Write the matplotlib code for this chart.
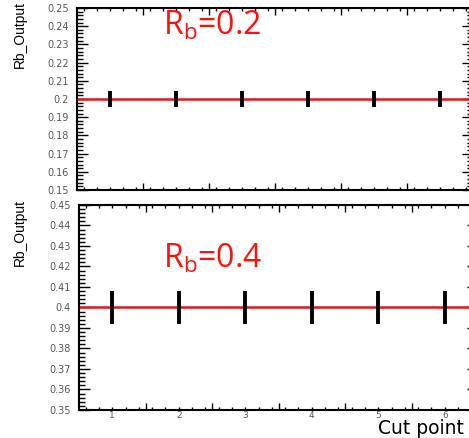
import matplotlib
matplotlib.use("Agg")
import matplotlib.pyplot as plt
from matplotlib.ticker import MultipleLocator, FormatStrFormatter

cut_points = [1, 2, 3, 4, 5, 6]
rb_out_02 = [0.2, 0.2, 0.2, 0.2, 0.2, 0.2]
err_02 = [0.0045, 0.0045, 0.0045, 0.0045, 0.0045, 0.0045]
rb_out_04 = [0.4, 0.4, 0.4, 0.4, 0.4, 0.4]
err_04 = [0.008, 0.008, 0.008, 0.008, 0.008, 0.008]
true_rb = [0.2, 0.4]
x_tick_labels = ["1", "2", "3", "4", "5", "6"]

fig = plt.figure(figsize=(4.69, 4.38), dpi=100)
W, H = 469, 438

def add_ax(l, t, r, b):
    return fig.add_axes([l / W, 1 - b / H, (r - l) / W, (b - t) / H])

ax1 = add_ax(77, 8, 473, 190)
ax2 = add_ax(79, 205, 478, 410)

panels = [
    (ax1, rb_out_02, err_02, true_rb[0], (0.15, 0.25), "R$_\\mathregular{b}$=0.2", 35),
    (ax2, rb_out_04, err_04, true_rb[1], (0.35, 0.45), "R$_\\mathregular{b}$=0.4", 268),
]

for ax, vals, errs, truth, ylim, label, base_px in panels:
    ax.set_xlim(0.5, 6.5)
    ax.set_ylim(*ylim)
    ax.axhline(truth, color="#e8141a", lw=1.8, zorder=2)
    ax.errorbar(cut_points, vals, yerr=errs, fmt="none", ecolor="black",
                elinewidth=2.8, capsize=0, zorder=3)
    ax.set_xticks([1.5, 2.5, 3.5, 4.5, 5.5])
    ax.set_xticklabels([])
    ax.xaxis.set_minor_locator(MultipleLocator(0.2))
    ax.yaxis.set_major_locator(MultipleLocator(0.01))
    ax.yaxis.set_minor_locator(MultipleLocator(0.002))
    ax.yaxis.set_major_formatter(FormatStrFormatter("%g"))
    ax.tick_params(which="both", direction="in", top=True, right=True, width=1.0,
                   colors="black", labelcolor="#555555", labelsize=7)
    ax.tick_params(which="major", axis="y", length=8, pad=6)
    ax.tick_params(which="minor", axis="y", length=4)
    ax.tick_params(which="major", axis="x", length=5)
    ax.tick_params(which="minor", axis="x", length=2.5)
    for s in ax.spines.values():
        s.set_linewidth(1.5)
    for t in ax.get_yticklabels():
        t.set_fontfamily("DejaVu Sans")
    fig.text(163 / W, 1 - base_px / H, label, color="#ff1010", fontsize=23,
             family="Open Sans", ha="left", va="baseline")

for x, lab in zip(cut_points, x_tick_labels):
    ax2.text(x, 0, lab, transform=ax2.get_xaxis_transform(), ha="center",
             va="center", fontsize=6.5, color="#555555", family="DejaVu Sans")
for t in ax2.texts:
    x_disp = ax2.transData.transform((t.get_position()[0], 0))[0]
    t.set_transform(fig.transFigure)
    t.set_position((x_disp / W, 1 - 416 / H))

fig.text(20 / W, 1 - 34 / H, "Rb_Output", rotation=90, ha="center", va="center",
         fontsize=10, family="Liberation Sans", color="black")
fig.text(20 / W, 1 - 232 / H, "Rb_Output", rotation=90, ha="center", va="center",
         fontsize=10, family="Liberation Sans", color="black")
fig.text(378 / W, 1 - 434 / H, "Cut point", ha="left", va="baseline", fontsize=13.5,
         family="DejaVu Sans", color="black")

fig.savefig("out.png", dpi=100)
